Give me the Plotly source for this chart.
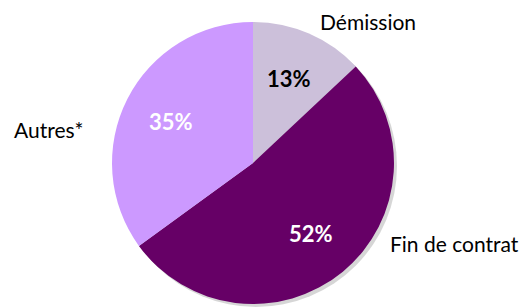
import math
import plotly.graph_objects as go

labels = ["Démission", "Fin de contrat", "Autres*"]
values = [13, 52, 35]
colors = ["#CCC0DA", "#660066", "#CC99FF"]
text_colors = ["#000000", "#FFFFFF", "#FFFFFF"]

# page offset from default body margin
M = 8
FW, FH = 519, 299

def px(x):
    return (x - M) / FW

def py(y):
    return 1 - (y - M) / FH

cx, cy, r = 253, 163, 141
dom_x = [px(cx - r), px(cx + r)]
dom_y = [py(cy + r), py(cy - r)]
off = 3
sh_x = [px(cx - r + off), px(cx + r + off)]
sh_y = [max(0, py(cy + r + off)), py(cy - r + off)]

fig = go.Figure()
fig.add_trace(go.Pie(
    values=[1], labels=["shadow"], marker=dict(colors=["rgba(0,0,0,0.16)"]),
    textinfo="none", hoverinfo="skip", sort=False, showlegend=False,
    domain=dict(x=sh_x, y=sh_y)))
fig.add_trace(go.Pie(
    labels=labels, values=values, sort=False, direction="clockwise", rotation=0,
    marker=dict(colors=colors, line=dict(width=0)),
    textinfo="none", showlegend=False, domain=dict(x=dom_x, y=dom_y)))

# percentage labels at the middle angle of each slice
total = sum(values)
cum = 0
for v, tc in zip(values, text_colors):
    mid = (cum + v / 2) / total * 2 * math.pi
    cum += v
    lx = cx + 0.65 * r * math.sin(mid)
    ly = cy - 0.65 * r * math.cos(mid)
    fig.add_annotation(x=px(lx), y=py(ly), xref="paper", yref="paper",
                       xanchor="center", yanchor="middle",
                       text="<b>%d%%</b>" % round(v / total * 100), showarrow=False,
                       font=dict(family="Lato", size=22, color=tc))

label_pos = {"Démission": (318, 22), "Fin de contrat": (388, 243), "Autres*": (12, 130)}
for lab in labels:
    x, y = label_pos[lab]
    fig.add_annotation(x=px(x), y=py(y), xref="paper", yref="paper",
                       xanchor="left", yanchor="middle", text=lab, showarrow=False,
                       font=dict(family="Lato", size=21, color="#000000"))

fig.update_layout(width=FW, height=FH, margin=dict(l=0, r=0, t=0, b=0),
                  paper_bgcolor="white", plot_bgcolor="white")
fig.write_html("out.html")
